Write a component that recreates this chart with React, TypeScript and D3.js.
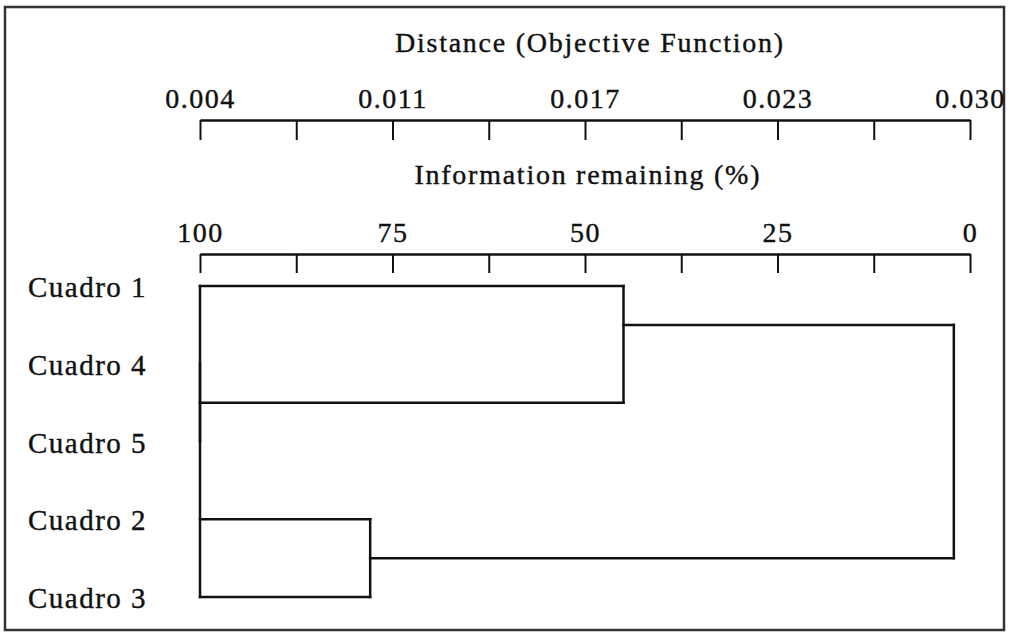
import React, { useEffect, useRef } from "react";
import * as d3 from "d3";

// leaves, top to bottom
const leaves = ["Cuadro 1", "Cuadro 4", "Cuadro 5", "Cuadro 2", "Cuadro 3"];

// merges, in the order they happen (info = % information remaining)
const merges = [
  { a: "Cuadro 4", b: "Cuadro 5", info: 100 },
  { a: "Cuadro 2", b: "Cuadro 3", info: 77.9 },
  { a: "Cuadro 1", b: "m0", info: 45.0 },
  { a: "m2", b: "m1", info: 2.1 },
];

const infoTicks = [100, 87.5, 75, 62.5, 50, 37.5, 25, 12.5, 0];
const infoLabels = ["100", "75", "50", "25", "0"];
const distLabels = ["0.004", "0.011", "0.017", "0.023", "0.030"];

const W = 1009;
const H = 634;
const FONT = "'Liberation Serif', 'Times New Roman', serif";

export default function App() {
  const svgRef = useRef<SVGSVGElement>(null);

  useEffect(() => {
    const svg = d3.select(svgRef.current);
    svg.selectAll("*").remove();

    const x = d3.scaleLinear().domain([100, 0]).range([200, 970]);
    const y = d3.scalePoint<string>().domain(leaves).range([286, 597]);

    // frame
    svg.append("rect")
      .attr("x", 5).attr("y", 7)
      .attr("width", 999).attr("height", 623)
      .attr("fill", "none")
      .attr("stroke", "#333")
      .attr("stroke-width", 2.5);

    const fmt = (labels: string[]) => (d: any) => {
      const i = infoTicks.indexOf(d);
      return i % 2 === 0 ? labels[i / 2] : "";
    };

    const styleAxis = (g: any) => {
      g.select(".domain").attr("stroke", "#111").attr("stroke-width", 2.5);
      g.selectAll(".tick line").attr("stroke", "#111").attr("stroke-width", 2);
      g.selectAll(".tick text")
        .attr("fill", "#111")
        .attr("stroke", "#111")
        .attr("stroke-width", 0.4)
        .style("font-family", FONT)
        .style("font-size", "28px")
        .style("letter-spacing", "1.5px");
    };

    // distance axis
    svg.append("g")
      .attr("transform", "translate(0,120)")
      .call(d3.axisTop(x).tickValues(infoTicks).tickSizeInner(-20).tickSizeOuter(0).tickPadding(12).tickFormat(fmt(distLabels)))
      .call(styleAxis);

    // information remaining axis
    svg.append("g")
      .attr("transform", "translate(0,254)")
      .call(d3.axisTop(x).tickValues(infoTicks).tickSizeInner(-19).tickSizeOuter(0).tickPadding(12).tickFormat(fmt(infoLabels)))
      .call(styleAxis);

    const title = (txt: string, cx: number, by: number, len: number) =>
      svg.append("text")
        .attr("x", cx).attr("y", by)
        .attr("text-anchor", "middle")
        .attr("textLength", len)
        .attr("lengthAdjust", "spacing")
        .attr("fill", "#111")
        .attr("stroke", "#111")
        .attr("stroke-width", 0.4)
        .style("font-family", FONT)
        .style("font-size", "28px")
        .text(txt);

    title("Distance (Objective Function)", 589, 52, 388);
    title("Information remaining (%)", 587, 184, 345);

    // leaf labels
    svg.selectAll(".leaf")
      .data(leaves)
      .join("text")
      .attr("class", "leaf")
      .attr("x", 28)
      .attr("y", (d) => (y(d) as number) + 11)
      .attr("fill", "#111")
      .attr("stroke", "#111")
      .attr("stroke-width", 0.4)
      .style("font-family", FONT)
      .style("font-size", "29px")
      .style("letter-spacing", "1.5px")
      .text((d) => d);

    // dendrogram geometry
    const nodes: Record<string, { x: number; y: number; first: number }> = {};
    leaves.forEach((l) => {
      nodes[l] = { x: x(100), y: y(l) as number, first: y(l) as number };
    });

    const segs: [number, number, number, number][] = [];
    merges.forEach((m, i) => {
      const a = nodes[m.a];
      const b = nodes[m.b];
      const mx = x(m.info);
      segs.push([a.x, a.y, mx, a.y]);
      segs.push([b.x, b.y, mx, b.y]);
      segs.push([mx, a.y, mx, b.y]);
      nodes["m" + i] = { x: mx, y: (a.first + b.first) / 2, first: a.first };
    });

    // leaf baseline on the left
    segs.push([x(100), y(leaves[0]) as number, x(100), y(leaves[leaves.length - 1]) as number]);

    svg.selectAll(".seg")
      .data(segs.filter((s) => s[0] !== s[2] || s[1] !== s[3]))
      .join("line")
      .attr("class", "seg")
      .attr("x1", (d) => d[0])
      .attr("y1", (d) => d[1])
      .attr("x2", (d) => d[2])
      .attr("y2", (d) => d[3])
      .attr("stroke", "#111")
      .attr("stroke-width", 2.5)
      .attr("stroke-linecap", "square");
  }, []);

  return (
    <svg
      ref={svgRef}
      width={W}
      height={H}
      style={{ position: "absolute", left: 0, top: 0, background: "#fff" }}
    ></svg>
  );
}
